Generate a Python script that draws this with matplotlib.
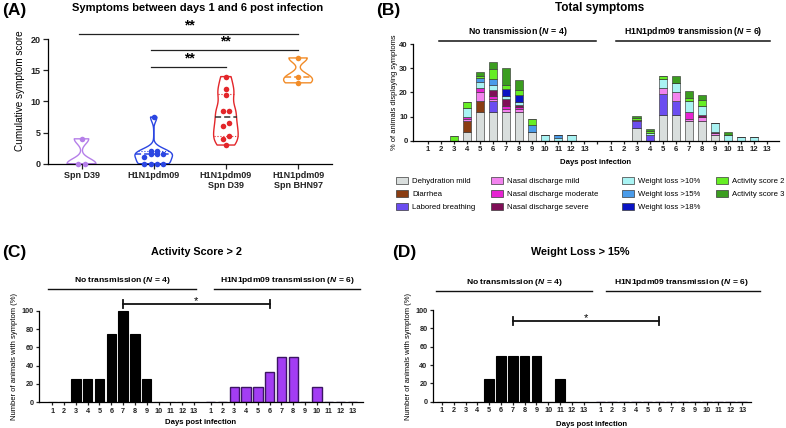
import matplotlib
matplotlib.use('Agg')
import matplotlib.pyplot as plt
import numpy as np
from matplotlib.patches import Patch

plt.rcParams['font.family'] = ['Liberation Sans', 'DejaVu Sans']
plt.rcParams['mathtext.fontset'] = 'custom'
plt.rcParams['mathtext.it'] = 'Liberation Sans:italic:bold'
plt.rcParams['mathtext.rm'] = 'Liberation Sans:bold'
plt.rcParams['axes.linewidth'] = 0.9

# ---------------- data ----------------
# Panel A
cats_A = ['Spn D39', 'H1N1pdm09', 'H1N1pdm09\nSpn D39', 'H1N1pdm09\nSpn BHN97']
spn_d39 = [4, 0, 0]
h1n1 = [7.5, 2, 2, 1.5, 1.5, 1.5, 1, 0, 0, 0, 0]
h1n1_spn_d39 = [14, 12, 11, 8.5, 8.5, 6.5, 6, 4.5, 4, 3]
h1n1_spn_bhn97 = [17, 14, 13]
colors_A = ['#b57fe9', '#2b46e2', '#e3262a', '#f28c28']
sig_A = [(0, 3, '**'), (1, 3, '**'), (1, 2, '**')]

# Panel B (days 1-13 no transmission, then days 1-13 H1N1pdm09 transmission)
days = list(range(1, 14))
dehydration_mild = [0, 0, 0, 3.8, 12, 12, 12, 12, 3.8, 0, 0, 0, 0,
                    0, 0, 5.1, 0, 10.8, 10.8, 8.0, 8.0, 2.4, 0, 0, 0, 0]
diarrhea = [0, 0, 0, 4.2, 4.3, 0, 0, 0, 0, 0, 0, 0, 0,
            0, 0, 0, 0, 0, 0, 0, 0, 0, 0, 0, 0, 0]
labored_breathing = [0, 0, 0, 0, 0, 4.3, 0, 0, 0, 0, 0, 0, 0,
                     0, 0, 2.9, 2.4, 8.4, 5.5, 0, 0, 0, 0, 0, 0, 0]
nasal_mild = [0, 0, 0, 1.2, 4.0, 1.2, 1.0, 1.0, 0, 0, 0, 0, 0,
              0, 0, 0, 0, 2.6, 3.8, 0.9, 1.8, 0.9, 0, 0, 0, 0]
nasal_moderate = [0, 0, 0, 0.6, 1.4, 1.0, 1.6, 1.0, 0, 0, 0, 0, 0,
                  0, 0, 0.7, 0, 0, 0, 2.9, 0, 0, 0, 0, 0, 0]
nasal_severe = [0, 0, 0, 0, 0, 2.6, 2.6, 1.0, 0, 0, 0, 0, 0,
                0, 0, 0, 0, 0, 0, 0, 0.8, 0.5, 0, 0, 0, 0]
weight_10 = [0, 0, 0, 3.8, 2.8, 1.8, 1.4, 1.0, 0, 2.5, 1.2, 2.5, 0,
             0, 0, 0, 0.9, 3.7, 3.7, 4.5, 3.9, 3.4, 2.3, 1.6, 1.6, 0]
weight_15 = [0, 0, 0, 0, 1.5, 2.5, 0, 0, 2.9, 0, 1.3, 0, 0,
             0, 0, 0, 0, 0, 0, 0, 0, 0, 0, 0, 0, 0]
weight_18 = [0, 0, 0, 0, 0, 0, 2.7, 3.0, 0, 0, 0, 0, 0,
             0, 0, 0, 0, 0, 0, 0, 0, 0, 0, 0, 0, 0]
activity_2 = [0, 0, 1.9, 2.3, 1.0, 4.5, 1.8, 1.9, 2.3, 0, 0, 0, 0,
              0, 0, 0.8, 0.9, 1.5, 0, 1.3, 2.5, 0, 0, 0, 0, 0]
activity_3 = [0, 0, 0, 0, 1.3, 2.6, 7.2, 4.4, 0, 0, 0, 0, 0,
              0, 0, 0.9, 0.8, 0, 2.9, 3.0, 1.8, 0, 1.5, 0, 0, 0]
symptom_names = ['Dehydration mild', 'Diarrhea', 'Labored breathing',
                 'Nasal discharge mild', 'Nasal discharge moderate', 'Nasal discharge severe',
                 'Weight loss >10%', 'Weight loss >15%', 'Weight loss >18%',
                 'Activity score 2', 'Activity score 3']
symptom_values = [dehydration_mild, diarrhea, labored_breathing, nasal_mild, nasal_moderate,
                  nasal_severe, weight_10, weight_15, weight_18, activity_2, activity_3]
symptom_colors = ['#d9dedd', '#8a3d12', '#6b4df0', '#f283ee', '#e623d2', '#7f0f57',
                  '#a9f3f3', '#4a9be9', '#0a14c4', '#66ee24', '#3b9d1f']

# Panel C: Activity score > 2 (% of animals)
activity_no_tx = [0, 0, 25, 25, 25, 75, 100, 75, 25, 0, 0, 0, 0]
activity_tx = [0, 0, 16.7, 16.7, 16.7, 33.3, 50, 50, 0, 16.7, 0, 0, 0]
# Panel D: Weight loss > 15% (% of animals)
weight_no_tx = [0, 0, 0, 0, 25, 50, 50, 50, 50, 0, 25, 0, 0]
weight_tx = [0] * 13

group_labels = [r'No transmission ($\it{N}$ = 4)', r'H1N1pdm09 transmission ($\it{N}$ = 6)']

# ---------------- figure ----------------
W, H = 786, 428
fig = plt.figure(figsize=(W / 100, H / 100), dpi=100)


def ax_px(l, r, b, t):
    return fig.add_axes([l / W, 1 - b / H, (r - l) / W, (b - t) / H])


def ftext(x, y, s, **kw):
    return fig.text(x / W, 1 - y / H, s, **kw)


def style(ax):
    for s in ['top', 'right']:
        ax.spines[s].set_visible(False)
    ax.tick_params(direction='out', width=0.9, colors='#222222')


# ---------------- Panel A ----------------
axA = ax_px(48.3, 332, 163.7, 17.5)
style(axA)
axA.set_xlim(-0.46, 3.47)
axA.set_ylim(0, 23.5)
axA.spines['left'].set_bounds(0, 20)
axA.set_yticks([0, 5, 10, 15, 20])
axA.set_xticks(range(4))
axA.set_xticklabels(cats_A, fontsize=6.5, fontweight='bold', linespacing=1.1)
for lab in axA.get_yticklabels():
    lab.set_fontsize(6.5)
    lab.set_fontweight('bold')
axA.tick_params(length=3.5, pad=2)

data_A = [spn_d39, h1n1, h1n1_spn_d39, h1n1_spn_bhn97]
widths_A = [0.40, 0.52, 0.34, 0.40]
vp = axA.violinplot(data_A, positions=range(4), widths=widths_A, bw_method=0.35,
                    showextrema=False, showmedians=False)
for body, c in zip(vp['bodies'], colors_A):
    body.set_facecolor('none')
    body.set_edgecolor(c)
    body.set_linewidth(1.0)
    body.set_alpha(1)
    body.set_clip_on(False)


def half_width(body, pos, y):
    v = body.get_paths()[0].vertices
    right = v[v[:, 0] >= pos - 1e-9]
    order = np.argsort(right[:, 1])
    return np.interp(y, right[order, 1], right[order, 0] - pos)


median_colors = ['#b57fe9', '#2b46e2', '#333333', '#f28c28']
for i, (vals, body, c) in enumerate(zip(data_A, vp['bodies'], colors_A)):
    vals = np.asarray(vals, float)
    med = np.median(vals)
    q1, q3 = np.percentile(vals, [25, 75], method='weibull')
    if i >= 1:
        hw = half_width(body, i, med)
        axA.plot([i - hw, i + hw], [med, med], ls=(0, (4, 2)), color=median_colors[i], lw=1.1)
        for q in (q1, q3):
            if vals.min() < q < vals.max():
                hw = half_width(body, i, q)
                axA.plot([i - hw, i + hw], [q, q], ls=':', color=c, lw=0.8)


def swarm_offsets(vals, tol, step):
    vals = np.asarray(vals, float)
    order = np.argsort(vals, kind='stable')
    offs = np.zeros(len(vals))
    i = 0
    while i < len(order):
        j = i
        while j + 1 < len(order) and vals[order[j + 1]] - vals[order[i]] <= tol:
            j += 1
        k = j - i + 1
        offs[order[i:j + 1]] = (np.arange(k) - (k - 1) / 2) * step
        i = j + 1
    return offs


for i, (vals, c) in enumerate(zip(data_A, colors_A)):
    off = swarm_offsets(vals, 0.6, 0.085)
    axA.scatter(i + off, vals, s=16, color=c, zorder=3, clip_on=False, linewidths=0)

sig_y = [20.9, 18.2, 15.5]
for (a, b, s), y in zip(sig_A, sig_y):
    axA.plot([a - 0.04, b], [y, y], color='#222222', lw=0.9, clip_on=False)
    axA.text((a + b) / 2, y + 0.25, s, ha='center', va='bottom', fontsize=10,
             fontweight='bold', clip_on=False)

axA.set_ylabel('Cumulative symptom score', fontsize=7.2, labelpad=4)
ftext(2, 11, '(A)', fontsize=12.5, fontweight='bold', va='center', ha='left')
ftext(198, 8, 'Symptoms between days 1 and 6 post infection', fontsize=8,
      fontweight='bold', va='center', ha='center')

# ---------------- Panel B ----------------
axB = ax_px(413.3, 779, 140.7, 29.8)
style(axB)
axB.set_xlim(-0.1, 27.9)
axB.set_ylim(0, 46)
axB.spines['left'].set_bounds(0, 40)
axB.set_yticks([0, 10, 20, 30, 40])
posB = [d for d in days] + [d + 14 for d in days]
bottom = np.zeros(len(posB))
for name, vals, c in zip(symptom_names, symptom_values, symptom_colors):
    vals = np.asarray(vals, float)
    axB.bar(posB, vals, width=0.64, bottom=bottom, color=c, edgecolor='#3a3a3a',
            linewidth=0.45, label=name)
    bottom += vals
tick_pos = list(range(1, 28))
tick_lab = [str(d) for d in days] + [''] + [str(d) for d in days]
axB.set_xticks(tick_pos)
axB.set_xticklabels(tick_lab)
axB.tick_params(length=2.5, pad=1.5, labelsize=5.6)
for lab in axB.get_xticklabels() + axB.get_yticklabels():
    lab.set_fontweight('bold')
axB.plot([1.9, 13.9], [41.2, 41.2], color='#111111', lw=1.1, clip_on=False)
axB.plot([15.4, 27.2], [41.2, 41.2], color='#111111', lw=1.1, clip_on=False)
axB.text(7.9, 42.6, group_labels[0], ha='center', va='bottom', fontsize=6.3,
         fontweight='bold', clip_on=False)
axB.text(21.3, 42.6, group_labels[1], ha='center', va='bottom', fontsize=6.3,
         fontweight='bold', clip_on=False)
ftext(596, 163, 'Days post infection', fontsize=5.6, fontweight='bold', ha='center', va='center')
ftext(395, 92, '% of animals displaying symptoms', fontsize=5.4, rotation=90,
      ha='center', va='center')
ftext(376, 10, '(B)', fontsize=12.5, fontweight='bold', va='center', ha='left')
ftext(600, 8, 'Total symptoms', fontsize=8.5, fontweight='bold', va='center', ha='center')

handles = [Patch(facecolor=c, edgecolor='#3a3a3a', linewidth=0.5) for c in symptom_colors]
col_groups = [(0, 3, 396), (3, 6, 491), (6, 9, 622), (9, 11, 716)]
for a, b, x in col_groups:
    fig.legend(handles[a:b], symptom_names[a:b], loc='upper left',
               bbox_to_anchor=(x / W, 1 - 177.5 / H), frameon=False, fontsize=5.6,
               borderaxespad=0, borderpad=0, handlelength=1.5, handleheight=0.85,
               handletextpad=0.6, labelspacing=0.66)


# ---------------- Panels C and D ----------------
def panel_cd(l, r, b, xlim, vals_l, vals_r, color_r, edge_r, bar_w):
    ax = ax_px(l, r, b, b - 135 * 0.916)
    style(ax)
    ax.set_xlim(*xlim)
    ax.set_ylim(0, 135)
    ax.spines['left'].set_bounds(0, 100)
    ax.set_yticks([0, 20, 40, 60, 80, 100])
    pos_l = np.array(days, float)
    pos_r = np.array(days, float) + 13.42
    ax.bar(pos_l, vals_l, width=bar_w, color='black', edgecolor='black', linewidth=0.8)
    ax.bar(pos_r, vals_r, width=bar_w, color=color_r, edgecolor=edge_r, linewidth=1.0)
    ax.set_xticks(list(pos_l) + list(pos_r))
    ax.set_xticklabels([str(d) for d in days] * 2)
    ax.tick_params(length=2.5, pad=1.5, labelsize=5.2)
    for lab in ax.get_xticklabels() + ax.get_yticklabels():
        lab.set_fontweight('bold')
    return ax


axC = panel_cd(39.3, 362.7, 402.3, (-0.1, 27.3), activity_no_tx, activity_tx,
               '#a33df4', '#3c1563', 0.8)
axC.plot([0.61, 13.2], [123.4, 123.4], color='#111111', lw=1.0, clip_on=False)
axC.plot([14.7, 27.1], [123.4, 123.4], color='#111111', lw=1.0, clip_on=False)
axC.text(6.9, 126.5, group_labels[0], ha='center', va='bottom', fontsize=6.1,
         fontweight='bold', clip_on=False)
axC.text(20.9, 126.5, group_labels[1], ha='center', va='bottom', fontsize=6.1,
         fontweight='bold', clip_on=False)
axC.plot([7.02, 19.42], [107, 107], color='#111111', lw=1.3, clip_on=False)
for xx in (7.02, 19.42):
    axC.plot([xx, xx], [102.5, 111.5], color='#111111', lw=1.3, clip_on=False)
axC.text(13.2, 104.5, '*', ha='center', va='bottom', fontsize=8, clip_on=False)
ftext(15, 356, 'Number of animals with symptom (%)', fontsize=5.5, rotation=90,
      ha='center', va='center')
ftext(201, 423, 'Days post infection', fontsize=5.6, fontweight='bold', ha='center', va='center')
ftext(2, 252, '(C)', fontsize=12.5, fontweight='bold', va='center', ha='left')
ftext(196, 252, 'Activity Score > 2', fontsize=7.8, fontweight='bold', va='center', ha='center')

axD = panel_cd(433, 751.3, 401.7, (0.24, 27.2), weight_no_tx, weight_tx,
               '#a33df4', '#3c1563', 0.82)
axD.plot([0.52, 13.7], [121, 121], color='#111111', lw=1.0, clip_on=False)
axD.plot([14.9, 27.9], [121, 121], color='#111111', lw=1.0, clip_on=False)
axD.text(7.1, 124, group_labels[0], ha='center', va='bottom', fontsize=6.1,
         fontweight='bold', clip_on=False)
axD.text(21.3, 124, group_labels[1], ha='center', va='bottom', fontsize=6.1,
         fontweight='bold', clip_on=False)
axD.plot([7.02, 19.4], [88, 88], color='#111111', lw=1.3, clip_on=False)
for xx in (7.02, 19.4):
    axD.plot([xx, xx], [83.5, 92.5], color='#111111', lw=1.3, clip_on=False)
axD.text(13.2, 85.5, '*', ha='center', va='bottom', fontsize=8, clip_on=False)
ftext(409, 356, 'Number of animals with symptom (%)', fontsize=5.5, rotation=90,
      ha='center', va='center')
ftext(592, 424, 'Days post infection', fontsize=5.6, fontweight='bold', ha='center', va='center')
ftext(392, 252, '(D)', fontsize=12.5, fontweight='bold', va='center', ha='left')
ftext(580, 252, 'Weight Loss > 15%', fontsize=7.8, fontweight='bold', va='center', ha='center')

fig.savefig('out.png', dpi=100)
